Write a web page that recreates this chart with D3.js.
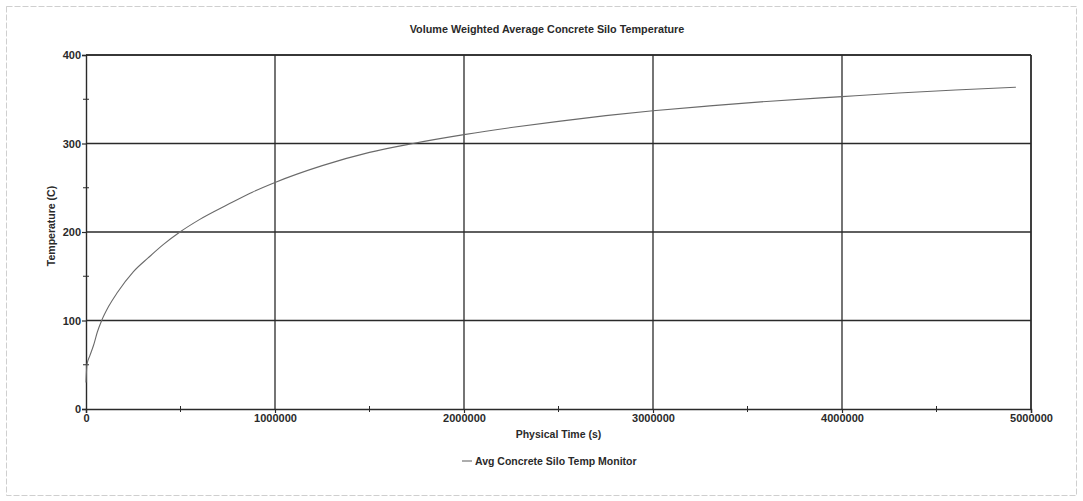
<!DOCTYPE html>
<html>
<head>
<meta charset="utf-8">
<script src="https://cdn.jsdelivr.net/npm/d3@7"></script>
<style>
  html, body { margin: 0; padding: 0; background: #fff; }
  svg { display: block; }
  text { font-family: "Liberation Sans", Arial, sans-serif; fill: #2a2a2a; font-weight: bold; }
</style>
</head>
<body>
<svg id="chart" width="1083" height="501"></svg>
<script>
// Physical time (s) and volume-weighted average silo temperature (C)
const timeSeconds = [0, 5000, 20000, 40000, 60000, 83000, 120000, 164000, 250000, 330000, 410000,
  497000, 600000, 750000, 880000, 1000000, 1250000, 1500000, 1730000, 2000000, 2250000,
  2500000, 2750000, 3000000, 3300000, 3600000, 4000000, 4300000, 4600000, 4920000];
const temperature = [30, 50, 60, 72, 87, 100, 116, 131, 155, 171, 186,
  200, 214, 231, 245, 256, 275, 290, 300, 310, 318,
  325, 331.5, 337, 342.5, 347.5, 353, 357, 360.5, 363.5];

const xTicks = [0, 1000000, 2000000, 3000000, 4000000, 5000000];
const xMinorTicks = [500000, 1500000, 2500000, 3500000, 4500000];
const yTicks = [0, 100, 200, 300, 400];
const yMinorTicks = [50, 150, 250, 350];

const chartTitle = "Volume Weighted Average Concrete Silo Temperature";
const xTitle = "Physical Time (s)";
const yTitle = "Temperature (C)";
const seriesName = "Avg Concrete Silo Temp Monitor";

const svg = d3.select("#chart");
const W = 1083, H = 501;
const m = { left: 86, right: 52, top: 55, bottom: 92 };
const pw = W - m.left - m.right, ph = H - m.top - m.bottom;

// outer dashed frame
svg.append("rect")
  .attr("x", 6.5).attr("y", 6.5).attr("width", W - 13).attr("height", H - 12)
  .attr("fill", "none").attr("stroke", "#cfcfcf").attr("stroke-width", 1)
  .attr("stroke-dasharray", "6,2");

const x = d3.scaleLinear().domain([0, 5000000]).range([0, pw]);
const y = d3.scaleLinear().domain([0, 400]).range([ph, 0]);

const g = svg.append("g").attr("transform", `translate(${m.left},${m.top})`);

// grid lines
g.append("g").selectAll("line").data(yTicks.filter(d => d > 0)).join("line")
  .attr("x1", 0).attr("x2", pw).attr("y1", d => y(d)).attr("y2", d => y(d))
  .attr("stroke", "#2a2a2a").attr("stroke-width", 1.3);
g.append("g").selectAll("line").data(xTicks.filter(d => d > 0)).join("line")
  .attr("y1", 0).attr("y2", ph).attr("x1", d => x(d)).attr("x2", d => x(d))
  .attr("stroke", "#2a2a2a").attr("stroke-width", 1.3);

// axes
const xAxis = d3.axisBottom(x).tickValues(xTicks).tickFormat(d3.format("d")).tickSize(4).tickPadding(2);
const yAxis = d3.axisLeft(y).tickValues(yTicks).tickFormat(d3.format("d")).tickSize(4).tickPadding(1);

const gx = g.append("g").attr("transform", `translate(0,${ph})`).call(xAxis);
const gy = g.append("g").call(yAxis);
[gx, gy].forEach(a => {
  a.select(".domain").attr("stroke", "#2a2a2a").attr("stroke-width", 1.4);
  a.selectAll(".tick line").attr("stroke", "#2a2a2a").attr("stroke-width", 1.2);
  a.selectAll(".tick text").attr("font-size", 11).attr("fill", "#2a2a2a")
    .attr("font-weight", "bold")
    .attr("font-family", "\"Liberation Sans\", Arial, sans-serif");
});
gx.selectAll(".tick text").attr("dy", "0.6em");

// minor ticks
g.append("g").selectAll("line").data(xMinorTicks).join("line")
  .attr("x1", d => x(d)).attr("x2", d => x(d)).attr("y1", ph - 3).attr("y2", ph + 3)
  .attr("stroke", "#2a2a2a").attr("stroke-width", 1);
g.append("g").selectAll("line").data(yMinorTicks).join("line")
  .attr("y1", d => y(d)).attr("y2", d => y(d)).attr("x1", -3).attr("x2", 3)
  .attr("stroke", "#2a2a2a").attr("stroke-width", 1);

// frame on top and right
g.append("line").attr("x1", 0).attr("x2", pw).attr("y1", 0).attr("y2", 0)
  .attr("stroke", "#2a2a2a").attr("stroke-width", 1.4);
g.append("line").attr("x1", pw).attr("x2", pw).attr("y1", 0).attr("y2", ph)
  .attr("stroke", "#2a2a2a").attr("stroke-width", 1.4);

// temperature curve
const pts = timeSeconds.map((t, i) => [t, temperature[i]]);
const line = d3.line().x(d => x(d[0])).y(d => y(d[1])).curve(d3.curveMonotoneX);
g.append("path").datum(pts).attr("d", line)
  .attr("fill", "none").attr("stroke", "#6a6a6a").attr("stroke-width", 1.1);

// titles
svg.append("text").attr("x", 547).attr("y", 33).attr("text-anchor", "middle")
  .attr("font-size", 10.8).text(chartTitle);
svg.append("text").attr("x", m.left + pw / 2).attr("y", 438).attr("text-anchor", "middle")
  .attr("font-size", 10.5).text(xTitle);
svg.append("text").attr("transform", `translate(55,226) rotate(-90)`)
  .attr("text-anchor", "middle").attr("font-size", 10.5).text(yTitle);

// legend
const lg = svg.append("g").attr("transform", "translate(462,461)");
lg.append("line").attr("x1", 0).attr("x2", 10).attr("y1", 0).attr("y2", 0)
  .attr("stroke", "#6a6a6a").attr("stroke-width", 1.1);
lg.append("text").attr("x", 13).attr("y", 4).attr("font-size", 10.5).text(seriesName);
</script>
</body>
</html>
